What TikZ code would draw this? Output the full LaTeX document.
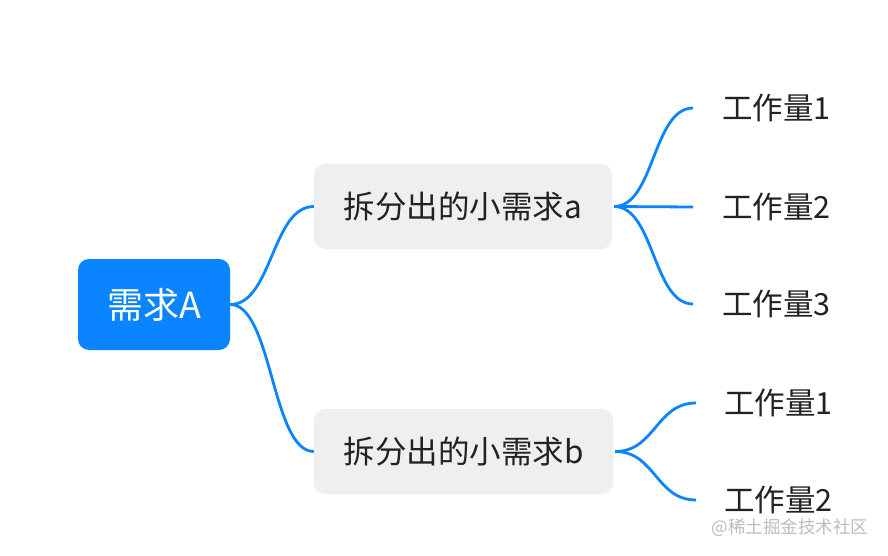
\documentclass[tikz,border=0pt]{standalone}
\usepackage{fontspec}
\setmainfont{Noto Sans CJK SC}
\definecolor{mblue}{HTML}{0A84FF}
\definecolor{subgray}{HTML}{EFEFEF}
\definecolor{txt}{HTML}{222222}
\definecolor{wm}{HTML}{BDBDBD}
\tikzset{
  rootbox/.style={fill=mblue, text=white, rounded corners=11pt, minimum width=152pt, minimum height=91pt, inner sep=0pt, font=\fontsize{36}{42}\selectfont},
  subbox/.style={fill=subgray, text=txt, rounded corners=11pt, minimum height=85pt, inner sep=0pt, font=\fontsize{31.5}{38}\selectfont},
  leafbox/.style={anchor=west, text=txt, inner xsep=0pt, inner ysep=0pt, font=\fontsize{30.5}{36}\selectfont},
  conn/.style={draw=mblue, line width=2.8pt},
  wmark/.style={text=wm, inner sep=0pt, font=\fontsize{17.5}{20}\selectfont}
}
\begin{document}
\begin{tikzpicture}[x=1pt,y=-1pt]
\useasboundingbox[fill=white] (0,0) rectangle (888,556);
\node[rootbox] (root) at (154,304.5) {需求A};
\node[subbox, minimum width=298pt] (suba) at (463,206.5) {拆分出的小需求a};
\node[subbox, minimum width=299pt] (subb) at (463.5,451.5) {拆分出的小需求b};
\coordinate (a1) at (693,108);
\coordinate (a2) at (693,207);
\coordinate (a3) at (693,304);
\coordinate (b1) at (696,403);
\coordinate (b2) at (696,500);
\node[leafbox] (la1) at (722,108) {工作量1};
\node[leafbox] (la2) at (722,207) {工作量2};
\node[leafbox] (la3) at (722,304) {工作量3};
\node[leafbox] (lb1) at (724,403) {工作量1};
\node[leafbox] (lb2) at (724,500) {工作量2};
\node[wmark] (wmk) at (790,528) {@稀土掘金技术社区};
\draw[conn] (root.east) .. controls +(42,0) and +(-42,0) .. (suba.west);
\draw[conn] (root.east) .. controls +(42,0) and +(-42,0) .. (subb.west);
\draw[conn] ([xshift=2pt]suba.east) .. controls +(40,0) and +(-40,0) .. (a1);
\draw[conn] ([xshift=2pt]suba.east) -- (a2);
\draw[conn] ([xshift=2pt]suba.east) .. controls +(40,0) and +(-40,0) .. (a3);
\draw[conn] ([xshift=2pt]subb.east) .. controls +(40,0) and +(-40,0) .. (b1);
\draw[conn] ([xshift=2pt]subb.east) .. controls +(40,0) and +(-40,0) .. (b2);
\end{tikzpicture}
\end{document}
